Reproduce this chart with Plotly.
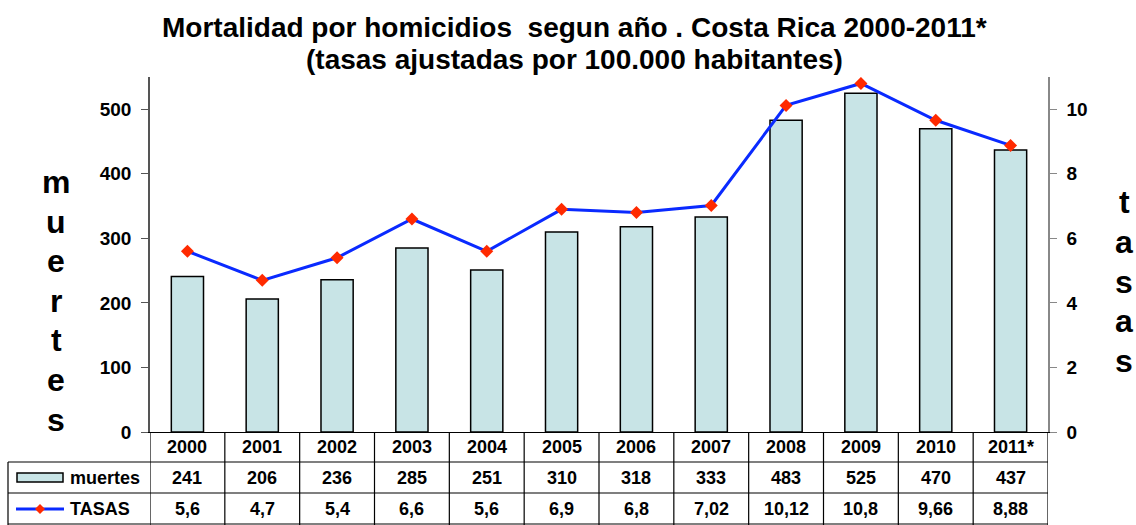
import plotly.graph_objects as go

years = ["2000", "2001", "2002", "2003", "2004", "2005", "2006", "2007", "2008", "2009", "2010", "2011*"]
muertes = [241, 206, 236, 285, 251, 310, 318, 333, 483, 525, 470, 437]
tasas = [5.6, 4.7, 5.4, 6.6, 5.6, 6.9, 6.8, 7.02, 10.12, 10.8, 9.66, 8.88]
tasas_labels = ["5,6", "4,7", "5,4", "6,6", "5,6", "6,9", "6,8", "7,02", "10,12", "10,8", "9,66", "8,88"]
left_ticks = [0, 100, 200, 300, 400, 500]
right_ticks = [0, 2, 4, 6, 8, 10]

FONT = "Liberation Sans, Arial, sans-serif"
W, H = 1136, 525
L, R, T, B = 150, 88, 77, 93
plot_h = H - T - B
plot_w = W - L - R

def py(p):
    return (H - B - p) / plot_h

def px(p):
    return (p - L) / plot_w

idx = list(range(len(years)))

fig = go.Figure()
fig.add_trace(go.Bar(
    x=idx, y=muertes, name="muertes", width=0.43,
    marker=dict(color="#c8e4e6", line=dict(color="black", width=1.5)),
    yaxis="y", showlegend=False,
))
fig.add_trace(go.Scatter(
    x=idx, y=tasas, name="TASAS", mode="lines+markers",
    line=dict(color="#0a2aff", width=3),
    marker=dict(symbol="diamond", size=10, color="#ff2a00", line=dict(width=0)),
    yaxis="y2", showlegend=False,
))

shapes = []
ann = []
n = len(years)
for p in (462, 493, 524):
    shapes.append(dict(type="line", xref="paper", yref="paper", x0=px(8), x1=1.0,
                       y0=py(p), y1=py(p), line=dict(color="black", width=1.2)))
shapes.append(dict(type="line", xref="paper", yref="paper", x0=px(8), x1=px(8),
                   y0=py(462), y1=py(525), line=dict(color="black", width=1.2)))
for k in range(n + 1):
    shapes.append(dict(type="line", xref="x", yref="paper", x0=k - 0.5, x1=k - 0.5,
                       y0=0, y1=py(525), line=dict(color="black", width=1.2)))
shapes.append(dict(type="rect", xref="paper", yref="paper", x0=px(17), x1=px(63),
                   y0=py(482), y1=py(473), fillcolor="#c8e4e6",
                   line=dict(color="black", width=1.5)))
shapes.append(dict(type="line", xref="paper", yref="paper", x0=px(16), x1=px(64),
                   y0=py(509), y1=py(509), line=dict(color="#0a2aff", width=3)))
shapes.append(dict(type="path", xref="paper", yref="paper",
                   path="M {a},{b} L {c},{d} L {a},{e} L {f},{d} Z".format(
                       a=px(40), b=py(504), c=px(45), d=py(509), e=py(514), f=px(35)),
                   fillcolor="#ff2a00", line=dict(width=0)))

def A(**kw):
    d = dict(showarrow=False, xanchor="center", yanchor="middle")
    d.update(kw)
    return d

tf = dict(family=FONT, size=18, color="black")
for i, yv in enumerate(years):
    ann.append(A(x=i, xref="x", y=py(447), yref="paper", text="<b>%s</b>" % yv, font=tf))
    ann.append(A(x=i, xref="x", y=py(478), yref="paper", text="<b>%d</b>" % muertes[i], font=tf))
    ann.append(A(x=i, xref="x", y=py(509), yref="paper", text="<b>%s</b>" % tasas_labels[i], font=tf))
ann.append(A(x=px(68), xref="paper", y=py(478), yref="paper", text="<b>muertes</b>",
             xanchor="left", font=tf))
ann.append(A(x=px(68), xref="paper", y=py(509), yref="paper", text="<b>TASAS</b>",
             xanchor="left", font=tf))

bigf = dict(family=FONT, size=32, color="black")
for j, ch in enumerate("muertes"):
    ann.append(A(x=px(56), xref="paper", y=py(182 + j * 39.6), yref="paper",
                 text="<b>%s</b>" % ch, font=bigf))
for j, ch in enumerate("tasas"):
    ann.append(A(x=px(1124), xref="paper", y=py(202 + j * 39.8), yref="paper",
                 text="<b>%s</b>" % ch, font=bigf))

ann.append(A(x=px(574), xref="paper", y=py(28), yref="paper",
             text="<b>Mortalidad por homicidios  segun año . Costa Rica 2000-2011*</b>",
             font=dict(family=FONT, size=28, color="black")))
ann.append(A(x=px(574), xref="paper", y=py(59), yref="paper",
             text="<b>(tasas ajustadas por 100.000 habitantes)</b>",
             font=dict(family=FONT, size=28, color="black")))

fig.update_layout(
    width=W, height=H,
    margin=dict(l=L, r=R, t=T, b=B),
    paper_bgcolor="white", plot_bgcolor="white",
    shapes=shapes, annotations=ann,
    xaxis=dict(range=[-0.5, n - 0.5], showticklabels=False,
               showline=True, linecolor="black", linewidth=1.2, ticks="",
               showgrid=False, zeroline=False, fixedrange=True),
    yaxis=dict(range=[0, 550], tickvals=left_ticks, showgrid=False, zeroline=False,
               showline=True, linecolor="#555", linewidth=1.5, ticks="outside",
               ticklen=7, tickcolor="#555",
               tickfont=dict(family=FONT, size=19, color="black", weight="bold"),
               ticklabelstandoff=6),
    yaxis2=dict(range=[0, 11], tickvals=right_ticks, overlaying="y", side="right",
                showgrid=False, zeroline=False, showline=True, linecolor="#888",
                linewidth=1.5, ticks="outside", ticklen=7, tickcolor="#888",
                tickfont=dict(family=FONT, size=19, color="black", weight="bold"),
                ticklabelstandoff=6),
    font=dict(family=FONT),
)

fig.write_html("out.html", config={"displayModeBar": False},
               post_script="document.body.style.margin='0';")
